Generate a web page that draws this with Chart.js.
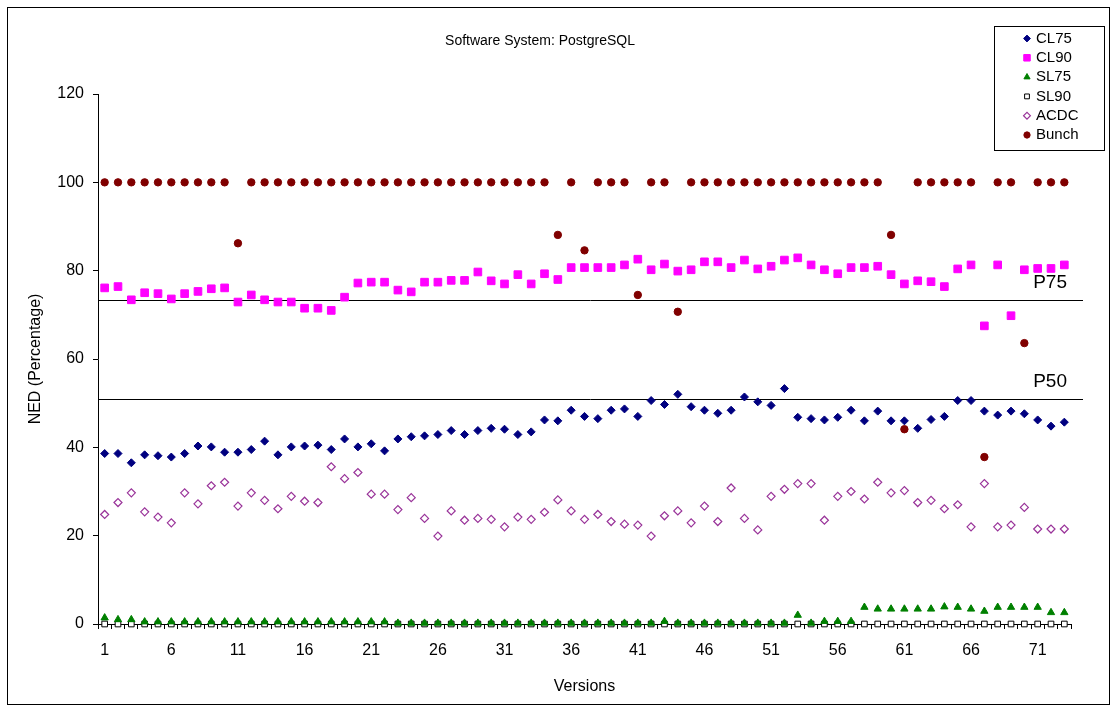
<!DOCTYPE html>
<html>
<head>
<meta charset="utf-8">
<title>Software System: PostgreSQL</title>
<script src="https://cdn.jsdelivr.net/npm/chart.js@4/dist/chart.umd.min.js"></script>
<style>
  html, body { margin: 0; padding: 0; background: #fff; }
  canvas { display: block; }
</style>
</head>
<body>
<canvas id="ned" width="1116" height="709"></canvas>
<script>
// Versions of the system (x categories)
const versions = [
  '1','2','3','4','5','6','7','8','9','10','11','12','13','14','15','16','17','18','19','20',
  '21','22','23','24','25','26','27','28','29','30','31','32','33','34','35','36','37','38','39','40',
  '41','42','43','44','45','46','47','48','49','50','51','52','53','54','55','56','57','58','59','60',
  '61','62','63','64','65','66','67','68','69','70','71','72','73'
];

// NED (%) per version for each clustering result
const cl75 = [
  38.6, 38.6, 36.5, 38.3, 38.1, 37.8, 38.6, 40.3, 40.1, 38.9,
  38.9, 39.5, 41.4, 38.3, 40.1, 40.3, 40.5, 39.5, 41.9, 40.1,
  40.8, 39.2, 41.9, 42.4, 42.6, 42.9, 43.8, 42.9, 43.8, 44.3,
  44.1, 42.9, 43.5, 46.2, 46.0, 48.4, 47.0, 46.5, 48.4, 48.7,
  47.0, 50.6, 49.7, 52.0, 49.2, 48.4, 47.7, 48.4, 51.4, 50.3,
  49.5, 53.3, 46.8, 46.5, 46.2, 46.8, 48.4, 46.0, 48.2, 46.0,
  46.0, 44.3, 46.3, 47.0, 50.6, 50.6, 48.2, 47.3, 48.2, 47.6,
  46.2, 44.8, 45.7
];
const cl90 = [
  76.1, 76.4, 73.4, 75.0, 74.8, 73.6, 74.8, 75.3, 75.9, 76.1,
  72.9, 74.5, 73.4, 72.9, 72.9, 71.5, 71.5, 71.0, 74.0, 77.2,
  77.4, 77.4, 75.6, 75.2, 77.4, 77.4, 77.8, 77.8, 79.7, 77.7,
  77.0, 79.1, 77.0, 79.3, 78.0, 80.7, 80.7, 80.7, 80.7, 81.3,
  82.6, 80.2, 81.5, 79.9, 80.2, 82.0, 82.0, 80.7, 82.4, 80.4,
  81.0, 82.4, 82.9, 81.3, 80.2, 79.3, 80.7, 80.7, 81.0, 79.1,
  77.0, 77.7, 77.5, 76.4, 80.4, 81.3, 67.5, 81.3, 69.8, 80.2,
  80.5, 80.5, 81.3
];
const sl75 = [
  1.4, 1.0, 1.0, 0.5, 0.5, 0.5, 0.5, 0.5, 0.5, 0.5,
  0.5, 0.5, 0.5, 0.5, 0.5, 0.5, 0.5, 0.5, 0.5, 0.5,
  0.5, 0.5, 0.2, 0.2, 0.2, 0.2, 0.2, 0.2, 0.2, 0.2,
  0.2, 0.2, 0.2, 0.2, 0.2, 0.2, 0.2, 0.2, 0.2, 0.2,
  0.2, 0.2, 0.6, 0.2, 0.2, 0.2, 0.2, 0.2, 0.2, 0.2,
  0.2, 0.2, 2.0, 0.2, 0.6, 0.6, 0.6, 3.8, 3.4, 3.4,
  3.4, 3.4, 3.4, 3.9, 3.8, 3.4, 2.9, 3.8, 3.8, 3.8,
  3.8, 2.6, 2.6
];
const sl90 = [
  0, 0, 0, 0, 0, 0, 0, 0, 0, 0,
  0, 0, 0, 0, 0, 0, 0, 0, 0, 0,
  0, 0, 0, 0, 0, 0, 0, 0, 0, 0,
  0, 0, 0, 0, 0, 0, 0, 0, 0, 0,
  0, 0, 0, 0, 0, 0, 0, 0, 0, 0,
  0, 0, 0, 0, 0, 0, 0, 0, 0, 0,
  0, 0, 0, 0, 0, 0, 0, 0, 0, 0,
  0, 0, 0
];
const acdc = [
  24.8, 27.5, 29.7, 25.4, 24.2, 22.9, 29.7, 27.2, 31.3, 32.1,
  26.7, 29.7, 28.0, 26.1, 28.9, 27.8, 27.5, 35.6, 32.9, 34.3,
  29.4, 29.4, 25.9, 28.6, 23.9, 19.9, 25.6, 23.5, 23.9, 23.7,
  22.0, 24.2, 23.7, 25.3, 28.1, 25.6, 23.7, 24.8, 23.2, 22.6,
  22.4, 19.9, 24.5, 25.6, 22.9, 26.7, 23.2, 30.8, 23.9, 21.3,
  28.9, 30.5, 31.8, 31.8, 23.5, 28.9, 30.0, 28.3, 32.1, 29.7,
  30.2, 27.5, 28.0, 26.1, 27.0, 22.0, 31.8, 22.0, 22.4, 26.4,
  21.5, 21.5, 21.5
];
const bunch = [
  100, 100, 100, 100, 100, 100, 100, 100, 100, 100,
  86.2, 100, 100, 100, 100, 100, 100, 100, 100, 100,
  100, 100, 100, 100, 100, 100, 100, 100, 100, 100,
  100, 100, 100, 100, 88.1, 100, 84.6, 100, 100, 100,
  74.5, 100, 100, 70.7, 100, 100, 100, 100, 100, 100,
  100, 100, 100, 100, 100, 100, 100, 100, 100, 88.1,
  44.1, 100, 100, 100, 100, 100, 37.8, 100, 100, 63.6,
  100, 100, 100
];

// Percentile reference lines
const refNames = ['P75', 'P50'];
const refValues = [73.4, 51.0];

// Y axis ticks
const yTicks = [0, 20, 40, 60, 80, 100, 120];

const chartTitle = 'Software System: PostgreSQL';
const xTitle = 'Versions';
const yTitle = 'NED (Percentage)';

const FONT = '"Liberation Sans", Arial, Helvetica, sans-serif';

function series(label, data, style, radius, fill, stroke, bw) {
  return {
    label, data,
    showLine: false,
    pointStyle: style,
    pointRadius: radius,
    pointHoverRadius: radius,
    pointBackgroundColor: fill,
    pointBorderColor: stroke,
    pointBorderWidth: bw,
    backgroundColor: fill,
    borderColor: stroke,
    clip: false
  };
}

const datasets = [
  series('CL75', cl75, 'rectRot', 4, '#000080', '#000080', 1),
  series('CL90', cl90, 'rect', 5.4, '#FF00FF', '#FF00FF', 1),
  series('SL75', sl75, 'triangle', 4.2, '#008000', '#008000', 1),
  series('SL90', sl90, 'rect', 4, '#FFFFFF', '#000000', 1),
  series('ACDC', acdc, 'rectRot', 4, 'rgba(255,255,255,0)', '#993399', 1.2),
  series('Bunch', bunch, 'circle', 3.7, '#800000', '#800000', 1)
];

// Frame, title, percentile lines and the boxed legend
const decor = {
  id: 'decor',
  beforeDraw(chart) {
    const { ctx } = chart;
    ctx.save();
    ctx.fillStyle = '#fff';
    ctx.fillRect(0, 0, chart.width, chart.height);
    ctx.strokeStyle = '#000';
    ctx.lineWidth = 1;
    ctx.strokeRect(7.5, 7.5, 1102, 697);
    ctx.fillStyle = '#000';
    ctx.font = '14px ' + FONT;
    ctx.textAlign = 'center';
    ctx.textBaseline = 'alphabetic';
    ctx.fillText(chartTitle, 540, 45);
    ctx.restore();
  },
  beforeDatasetsDraw(chart) {
    const { ctx, chartArea, scales } = chart;
    ctx.save();
    ctx.strokeStyle = '#000';
    ctx.lineWidth = 1;
    ctx.fillStyle = '#000';
    ctx.font = '19px ' + FONT;
    ctx.textAlign = 'right';
    ctx.textBaseline = 'alphabetic';
    refValues.forEach((v, i) => {
      const py = Math.round(scales.y.getPixelForValue(v)) + 0.5;
      ctx.beginPath();
      ctx.moveTo(chartArea.left, py);
      ctx.lineTo(chartArea.right + 12, py);
      ctx.stroke();
      ctx.fillText(refNames[i], chartArea.right - 4, py - 13);
    });
    ctx.restore();
  },
  afterDraw(chart) {
    const { ctx } = chart;
    ctx.save();
    ctx.fillStyle = '#fff';
    ctx.fillRect(994.5, 26.5, 110, 124);
    ctx.strokeStyle = '#000';
    ctx.lineWidth = 1;
    ctx.strokeRect(994.5, 26.5, 110, 124);
    chart.data.datasets.forEach((ds, i) => {
      const cy = 38.5 + i * 19.3;
      ctx.fillStyle = ds.pointBackgroundColor;
      ctx.strokeStyle = ds.pointBorderColor;
      ctx.lineWidth = ds.pointBorderWidth;
      Chart.helpers.drawPoint(ctx, {
        pointStyle: ds.pointStyle,
        radius: ds.pointRadius * 0.85,
        rotation: 0,
        borderWidth: ds.pointBorderWidth
      }, 1027, cy);
      ctx.fillStyle = '#000';
      ctx.font = '15px ' + FONT;
      ctx.textAlign = 'left';
      ctx.textBaseline = 'middle';
      ctx.fillText(ds.label, 1036, cy);
    });
    ctx.restore();
  }
};

new Chart(document.getElementById('ned'), {
  type: 'line',
  data: { labels: versions, datasets },
  options: {
    responsive: false,
    animation: false,
    devicePixelRatio: 1,
    events: [],
    layout: { padding: { left: 0, top: 94, right: 45, bottom: 0 } },
    plugins: {
      legend: { display: false },
      title: { display: false },
      tooltip: { enabled: false }
    },
    scales: {
      x: {
        type: 'category',
        offset: true,
        afterFit(scale) { scale.height = 85; },
        grid: {
          offset: true,
          drawOnChartArea: false,
          drawTicks: true,
          tickLength: 5,
          color: '#000'
        },
        border: { color: '#000', width: 1 },
        ticks: {
          autoSkip: false,
          maxRotation: 0,
          minRotation: 0,
          padding: 12,
          color: '#000',
          font: { family: FONT, size: 16 },
          callback(value, index) { return index % 5 === 0 ? versions[index] : ''; }
        },
        title: {
          display: true,
          text: xTitle,
          color: '#000',
          font: { family: FONT, size: 16 },
          padding: { top: 0, bottom: 13 }
        }
      },
      y: {
        min: 0,
        max: 120,
        afterFit(scale) { scale.width = 98; },
        afterBuildTicks(scale) { scale.ticks = yTicks.map(v => ({ value: v })); },
        grid: {
          drawOnChartArea: false,
          drawTicks: true,
          tickLength: 5,
          color: '#000'
        },
        border: { color: '#000', width: 1 },
        ticks: {
          padding: 9,
          color: '#000',
          font: { family: FONT, size: 16 }
        },
        title: {
          display: true,
          text: yTitle,
          color: '#000',
          font: { family: FONT, size: 16 },
          padding: { top: 26, bottom: 0 }
        }
      }
    }
  },
  plugins: [decor]
});
</script>
</body>
</html>
